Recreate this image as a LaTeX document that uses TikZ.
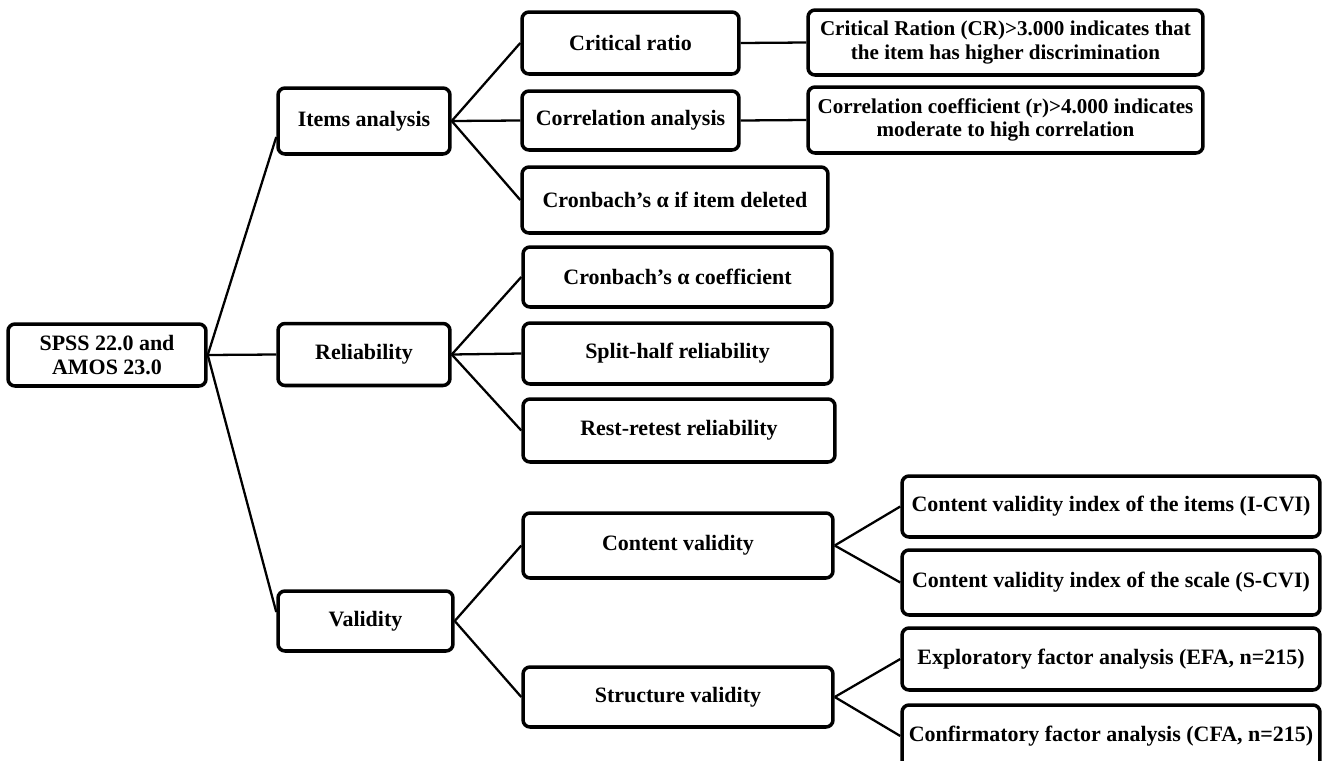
\documentclass[tikz,border=0pt]{standalone}
\usepackage{fontspec}
\setmainfont{Liberation Serif}
\usepackage{tikz}
\usetikzlibrary{positioning,calc}

\tikzset{
  box/.style={draw, line width=2pt, rounded corners=4pt, align=center,
    inner sep=0pt, minimum height=1.24cm,
    font=\fontsize{12.5}{13.5}\selectfont\bfseries},
  note/.style={box, font=\fontsize{12}{13.2}\selectfont\bfseries},
  link/.style={line width=1.3pt},
}

\begin{document}
\begin{tikzpicture}[x=0.02cm,y=-0.02cm]
  \useasboundingbox (0,0) rectangle (1333,761);
  % root
  \node[box, minimum width=3.96cm] (root) at (107,355) {SPSS 22.0 and\\AMOS 23.0};
  % first level
  \node[box, minimum width=3.44cm, minimum height=1.32cm] (items) at (364,121) {Items analysis};
  \node[box, minimum width=3.44cm] (rel) at (364,354.5) {Reliability};
  \node[box, minimum width=3.5cm, minimum height=1.2cm] (val) at (365.5,621) {Validity};
  % second level
  \node[box, minimum width=4.34cm] (cr) at (630.5,43) {Critical ratio};
  \node[box, minimum width=4.34cm, minimum height=1.18cm] (corr) at (630.5,120.5) {Correlation analysis};
  \node[box, minimum width=6.12cm, minimum height=1.32cm] (cdel) at (675,200) {Cronbach's α if item deleted};
  \node[box, minimum width=6.18cm, minimum height=1.2cm] (ccoef) at (677.5,277) {Cronbach's α coefficient};
  \node[box, minimum width=6.18cm, minimum height=1.22cm] (split) at (677.5,353.5) {Split-half reliability};
  \node[box, minimum width=6.24cm, minimum height=1.26cm] (rest) at (679,430.5) {Rest-retest reliability};
  \node[box, minimum width=6.2cm, minimum height=1.3cm] (cont) at (678,545.5) {Content validity};
  \node[box, minimum width=6.2cm, minimum height=1.2cm] (struc) at (678,697) {Structure validity};
  % third level
  \node[note, minimum width=7.9cm, minimum height=1.3cm] (crd) at (1005.5,42.5)
    {Critical Ration (CR)>3.000 indicates that\\the item has higher discrimination};
  \node[note, minimum width=7.9cm, minimum height=1.32cm] (corrd) at (1005.5,120)
    {Correlation coefficient (r)>4.000 indicates\\moderate to high correlation};
  \node[box, minimum width=8.36cm, minimum height=1.22cm] (icvi) at (1111,506.5) {Content validity index of the items (I-CVI)};
  \node[box, minimum width=8.36cm, minimum height=1.3cm] (scvi) at (1111,582.5) {Content validity index of the scale (S-CVI)};
  \node[box, minimum width=8.36cm] (efa) at (1111,659) {Exploratory factor analysis (EFA, n=215)};
  \node[box, minimum width=8.36cm] (cfa) at (1111,736) {Confirmatory factor analysis (CFA, n=215)};
  % connectors
  \draw[link] (root.east) -- ($(items.west)+(0,16)$);
  \draw[link] (root.east) -- (rel.west);
  \draw[link] (root.east) -- ($(val.west)+(0,-9)$);
  \foreach \a/\b in {items/cr, items/corr, items/cdel, rel/ccoef, rel/split, rel/rest,
      val/cont, val/struc, cont/icvi, cont/scvi, struc/efa, struc/cfa, cr/crd, corr/corrd} {
    \draw[link] (\a.east) -- (\b.west);
  }
\end{tikzpicture}
\end{document}
